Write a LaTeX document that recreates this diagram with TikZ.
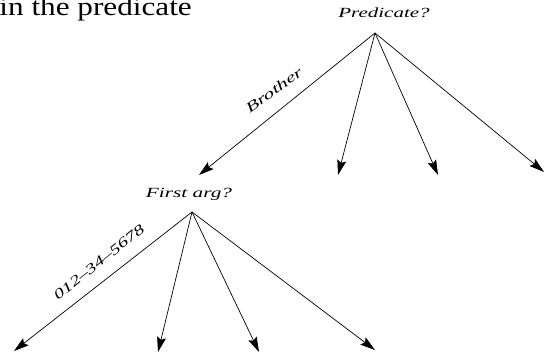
\documentclass[tikz,border=0pt]{standalone}
\usepackage{fontspec}
\setmainfont{Liberation Serif}
\usetikzlibrary{arrows.meta}
\tikzset{
	lbl/.style={font=\fontsize{14}{16}\selectfont\itshape, inner sep=0pt},
	branch/.style={line width=0.7pt, -{Stealth[length=15pt,width=9pt,inset=2.5pt]}}
}

\begin{document}
\begin{tikzpicture}[x=1pt, y=-1pt]
	% page: 546 x 352, y runs downwards
	\useasboundingbox (0, 0) rectangle (546, 352);
	\node[anchor=base east, inner sep=0pt, xscale=1.2, font=\fontsize{26}{30}\selectfont] (head) at (192, 16) {in the predicate};
	% first test: the predicate
	\node[lbl, xscale=1.5] (pred) at (384, 13) {Predicate?};
	\coordinate (predroot) at (375, 33);
	\coordinate (pa) at (199, 175);
	\coordinate (pb) at (338, 175);
	\coordinate (pc) at (438, 175);
	\coordinate (pd) at (544, 172);
	\draw[branch] (predroot) -- (pa);
	\draw[branch] (predroot) -- (pb);
	\draw[branch] (predroot) -- (pc);
	\draw[branch] (predroot) -- (pd);
	\node[lbl, rotate=36, xscale=1.55] (brother) at (274, 90) {Brother};
	% second test: the first argument
	\node[lbl, xscale=1.52] (first) at (189, 194) {First arg?};
	\coordinate (firstroot) at (192, 212);
	\coordinate (fa) at (14, 351);
	\coordinate (fb) at (158, 352);
	\coordinate (fc) at (259, 352);
	\coordinate (fd) at (375, 350);
	\draw[branch] (firstroot) -- (fa);
	\draw[branch] (firstroot) -- (fb);
	\draw[branch] (firstroot) -- (fc);
	\draw[branch] (firstroot) -- (fd);
	\node[lbl, rotate=38.5, xscale=1.45] (number) at (99, 262) {012--34--5678};
\end{tikzpicture}
\end{document}
